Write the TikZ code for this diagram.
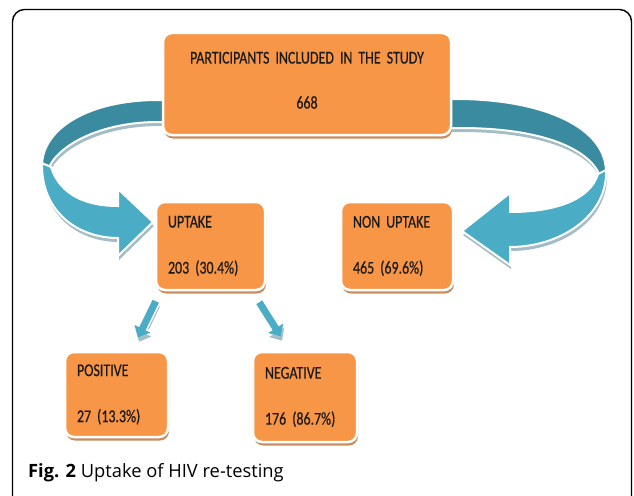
\documentclass[tikz,border=0pt]{standalone}
\usepackage{fontspec}
\setmainfont{Open Sans}
\newfontfamily\boxfont[FakeStretch=0.775,FakeBold=0.4]{Carlito}
\newcommand\boxtype{\boxfont\fontsize{18}{22}\selectfont
  \fontdimen2\font=3.5pt\relax\fontdimen3\font=0pt\relax}
\usetikzlibrary{arrows.meta,shadows}
\definecolor{boxorange}{HTML}{F79646}
\definecolor{boxtan}{HTML}{C98D62}
\definecolor{ribbondark}{HTML}{3A8BA0}
\definecolor{ribbonlight}{HTML}{4BACC6}
\definecolor{ribbonrim}{HTML}{A3BCC6}
\tikzset{
  stagebox/.style={draw=white, line width=2.5pt, fill=boxorange, rounded corners=9pt,
    drop shadow={shadow xshift=1pt, shadow yshift=-3.5pt, fill=boxtan, opacity=1},
    inner xsep=12pt, inner ysep=0pt, align=left, text=black!90, font=\boxtype},
  ribbonface/.style={fill=#1, draw=white, line width=2pt,
    preaction={fill=ribbonrim, transform canvas={xshift=1pt,yshift=-4pt}}},
  splitarrow/.style={ribbonlight, line width=7pt, -{Triangle[width=17pt,length=10pt]},
    preaction={draw=ribbonrim, line width=7pt, -{Triangle[width=17pt,length=10pt]},
      transform canvas={xshift=1pt,yshift=-4pt}},
    preaction={draw=white, line width=10pt, -{Triangle[width=21pt,length=12pt]}}}
}

\begin{document}
\begin{tikzpicture}[x=1pt,y=-1pt]
  \useasboundingbox (0,0) rectangle (634,495);

  % frame of the figure
  \begin{scope}
    \clip (0,0) rectangle (634,495);
    \draw[line width=1.4pt, rounded corners=12pt] (12.5,9.5) rectangle (631.5,540);
  \end{scope}

  % left bent arrow
  \path[ribbonface=ribbondark] (168,100) -- (158,100) .. controls (90,100) and (42,128) .. (42,166)
    -- (48,170) .. controls (56,146) and (100,122) .. (158,122) -- (168,122) -- cycle;
  \path[ribbonface=ribbonlight] (42,163) .. controls (41,212) and (78,238) .. (118,238)
    -- (118,256) -- (153,222) -- (118,189) -- (118,206)
    .. controls (86,206) and (60,195) .. (51,167) -- cycle;

  % right bent arrow
  \path[ribbonface=ribbondark] (446,99) -- (460,99) .. controls (545,100) and (606,128) .. (606,172)
    -- (600,176) .. controls (590,150) and (545,128) .. (460,128) -- (446,128) -- cycle;
  \path[ribbonface=ribbonlight] (606,170) .. controls (608,216) and (560,247) .. (510,247)
    -- (510,265) -- (462,231) -- (510,193) -- (510,212)
    .. controls (555,212) and (590,200) .. (598,174) -- cycle;

  % boxes
  \node[stagebox, align=center, text width=264pt, minimum height=102pt] (study) at (307,84)
    {PARTICIPANTS INCLUDED IN THE STUDY\\[23pt]668\\[-21pt]\strut};
  \node[stagebox, text width=85pt, minimum height=88pt] (uptake) at (210.5,246)
    {UPTAKE\\[24pt]203 (30.4\%)};
  \node[stagebox, text width=88pt, minimum height=88pt] (nonuptake) at (397,246)
    {NON UPTAKE\\[24pt]465 (69.6\%)};
  \node[stagebox, text width=79pt, minimum height=85pt] (positive) at (116.5,394.5)
    {POSITIVE\\[24pt]27 (13.3\%)};
  \node[stagebox, text width=80pt, minimum height=90pt] (negative) at (305,397)
    {NEGATIVE\\[24pt]176 (86.7\%)};

  % split of the uptake
  \draw[splitarrow] ([xshift=1pt,yshift=-10pt]uptake.south west) -- ([xshift=21.5pt,yshift=13pt]positive.north);
  \draw[splitarrow] ([xshift=-7pt,yshift=-11pt]uptake.south east) -- ([xshift=-24pt,yshift=14pt]negative.north);

  % caption
  \node[anchor=base west, inner sep=0pt, font=\fontsize{18.3}{21}\selectfont] (caption) at (28,477)
    {\textbf{Fig. 2} Uptake of HIV re-testing};
\end{tikzpicture}
\end{document}
